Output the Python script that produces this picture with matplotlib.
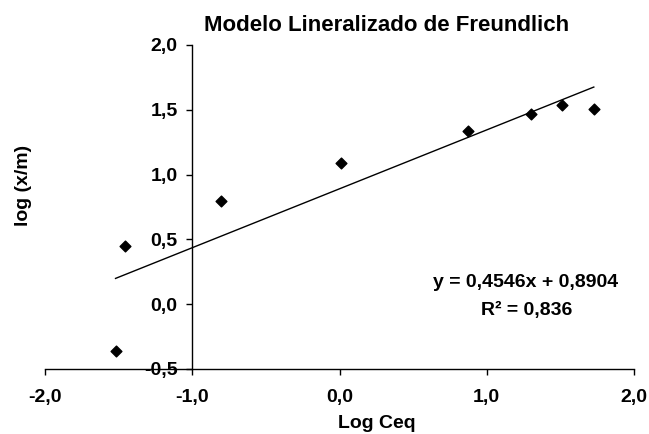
import matplotlib
matplotlib.use("Agg")
import matplotlib.pyplot as plt
import numpy as np

plt.rcParams['font.family'] = ['Liberation Sans', 'DejaVu Sans']
plt.rcParams['font.weight'] = 'bold'

# Data
log_ceq = [-1.521, -1.459, -0.806, 0.012, 0.872, 1.300, 1.514, 1.727]
log_xm = [-0.362, 0.450, 0.800, 1.090, 1.334, 1.470, 1.540, 1.504]
slope = 0.4546
intercept = 0.8904
r2 = 0.836

x_ticks = [-2.0, -1.0, 0.0, 1.0, 2.0]
y_ticks = [-0.5, 0.0, 0.5, 1.0, 1.5, 2.0]

W, H = 649, 434
fig = plt.figure(figsize=(W / 100, H / 100), dpi=100)
left, right, top, bottom = 45, 634, 45, 369
ax = fig.add_axes([left / W, 1 - bottom / H, (right - left) / W, (bottom - top) / H])

ax.set_xlim(-2.0, 2.0)
ax.set_ylim(-0.5, 2.0)

ax.scatter(log_ceq, log_xm, marker='D', s=30, color='black', zorder=3, clip_on=False)

xl = np.array([min(log_ceq), max(log_ceq)])
ax.plot(xl, slope * xl + intercept, color='black', lw=1.0)

ax.spines['top'].set_visible(False)
ax.spines['right'].set_visible(False)
ax.spines['left'].set_position(('data', -1.0))
ax.spines['bottom'].set_position(('data', -0.5))
for s in ('left', 'bottom'):
    ax.spines[s].set_linewidth(1.0)

def fmt(v, nd=1):
    return f"{v:.{nd}f}".replace('.', ',')

ax.set_xticks(x_ticks)
ax.set_yticks(y_ticks)
ax.set_xticklabels([fmt(v) for v in x_ticks], fontsize=14, fontweight='bold')
ax.set_yticklabels([fmt(v) for v in y_ticks], fontsize=14, fontweight='bold')
ax.tick_params(axis='both', direction='out', length=4.5, width=1.0)
ax.tick_params(axis='x', pad=10)
ax.tick_params(axis='y', pad=6)

fig.text(387 / W, 1 - 31 / H, 'Modelo Lineralizado de Freundlich', ha='center', va='baseline',
         fontsize=16, fontweight='bold')
fig.text(377 / W, 1 - 428 / H, 'Log Ceq', ha='center', va='baseline', fontsize=14, fontweight='bold')
fig.text(24 / W, 1 - 185 / H, 'log (x/m)', ha='center', va='center', rotation=90,
         fontsize=14, fontweight='bold')

eq = f"y = {fmt(slope, 4)}x + {fmt(intercept, 4)}"
fig.text(526 / W, 1 - 287 / H, eq, ha='center', va='baseline', fontsize=14, fontweight='bold')
fig.text(527 / W, 1 - 315 / H, f"R\u00b2 = {fmt(r2, 3)}", ha='center', va='baseline',
         fontsize=14, fontweight='bold')

fig.savefig('out.png', dpi=100)
